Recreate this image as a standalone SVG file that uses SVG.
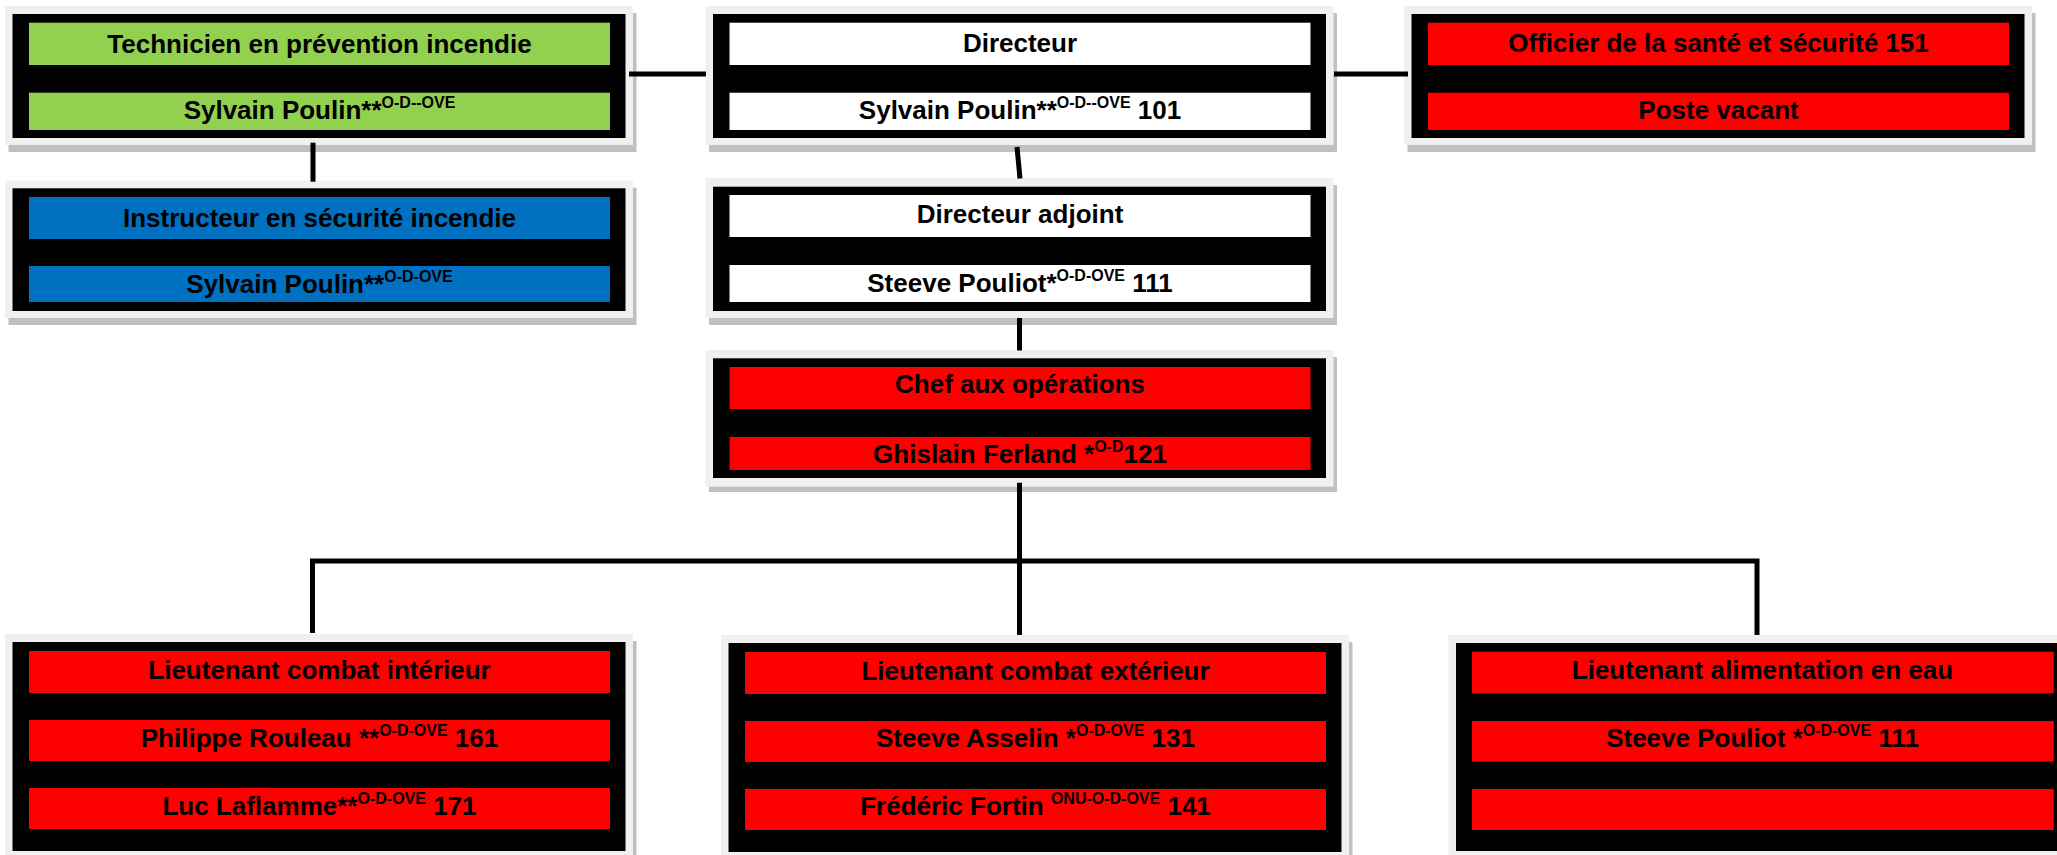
<svg xmlns="http://www.w3.org/2000/svg" width="2057" height="855" viewBox="0 0 2057 855">
<style>
.sh{fill:#c0c0c0}
.fr{fill:#f0f0f0}
.bk{fill:#000}
.g{fill:#92d050}
.b{fill:#0070c0}
.r{fill:#ff0000}
.w{fill:#ffffff}
.t{font-family:"Liberation Sans",Arial,sans-serif;font-weight:bold;font-size:26px;fill:#000;text-anchor:middle}
.s{font-size:16px}
.c{stroke:#000;stroke-width:5;fill:none;stroke-linejoin:miter;stroke-linecap:butt}
</style>
<rect width="2057" height="855" fill="#fff"/>

<g id="technicien">
<rect class="sh" x="8.5" y="13" width="628" height="139"/>
<rect class="fr" x="5" y="6" width="628" height="139"/>
<rect class="bk" x="12.5" y="14" width="613" height="124"/>
<rect class="g" x="29" y="22.7" width="581" height="42.3"/>
<rect class="g" x="29" y="92.7" width="581" height="37.3"/>
<text class="t" x="319.5" y="52.7">Technicien en prévention incendie</text>
<text class="t" x="319.5" y="119.3">Sylvain Poulin**<tspan class="s" dy="-11">O-D--OVE</tspan></text>
</g>

<g id="instructeur">
<rect class="sh" x="8.5" y="187.7" width="628" height="137.3"/>
<rect class="fr" x="5" y="180.7" width="628" height="137.3"/>
<rect class="bk" x="12.5" y="188.3" width="613" height="122.7"/>
<rect class="b" x="29" y="197" width="581" height="42"/>
<rect class="b" x="29" y="266" width="581" height="36"/>
<text class="t" x="319.5" y="226.7">Instructeur en sécurité incendie</text>
<text class="t" x="319.5" y="292.7">Sylvain Poulin**<tspan class="s" dy="-11">O-D-OVE</tspan></text>
</g>

<g id="directeur">
<rect class="sh" x="709" y="13" width="628" height="139"/>
<rect class="fr" x="705.5" y="6" width="628" height="139"/>
<rect class="bk" x="713" y="14" width="613" height="124"/>
<rect class="w" x="729.5" y="22.7" width="581" height="42.3"/>
<rect class="w" x="729.5" y="92.7" width="581" height="37.3"/>
<text class="t" x="1020" y="52.4">Directeur</text>
<text class="t" x="1020" y="119.3">Sylvain Poulin**<tspan class="s" dy="-11">O-D--OVE</tspan><tspan dy="11"> 101</tspan></text>
</g>

<g id="officier">
<rect class="sh" x="1407.5" y="13" width="628" height="139"/>
<rect class="fr" x="1404" y="6" width="628" height="139"/>
<rect class="bk" x="1411.5" y="14" width="613" height="124"/>
<rect class="r" x="1428" y="22.7" width="581" height="42.3"/>
<rect class="r" x="1428" y="92.7" width="581" height="37.3"/>
<text class="t" x="1718.5" y="52.4">Officier de la santé et sécurité 151</text>
<text class="t" x="1718.5" y="119.3">Poste vacant</text>
</g>

<g id="adjoint">
<rect class="sh" x="709" y="185" width="628" height="140"/>
<rect class="fr" x="705.5" y="178" width="628" height="140"/>
<rect class="bk" x="713" y="186.7" width="613" height="124.3"/>
<rect class="w" x="729.5" y="195" width="581" height="42"/>
<rect class="w" x="729.5" y="265" width="581" height="37"/>
<text class="t" x="1020" y="223">Directeur adjoint</text>
<text class="t" x="1020" y="291.7">Steeve Pouliot*<tspan class="s" dy="-11">O-D-OVE</tspan><tspan dy="11"> 111</tspan></text>
</g>

<g id="chef">
<rect class="sh" x="709" y="357" width="628" height="135"/>
<rect class="fr" x="705.5" y="350" width="628" height="136.7"/>
<rect class="bk" x="713" y="358.3" width="613" height="119.7"/>
<rect class="r" x="729.5" y="367" width="581" height="42"/>
<rect class="r" x="729.5" y="437" width="581" height="33"/>
<text class="t" x="1020" y="393.3">Chef aux opérations</text>
<text class="t" x="1020" y="462.7">Ghislain Ferland *<tspan class="s" dy="-11">O-D</tspan><tspan dy="11">121</tspan></text>
</g>

<g id="lt-interieur">
<rect class="sh" x="8.5" y="641" width="628" height="220"/>
<rect class="fr" x="5" y="634" width="628" height="225"/>
<rect class="bk" x="12.5" y="642" width="613" height="209"/>
<rect class="r" x="29" y="651" width="581" height="42"/>
<rect class="r" x="29" y="720" width="581" height="41"/>
<rect class="r" x="29" y="788" width="581" height="41"/>
<text class="t" x="319.5" y="679.3">Lieutenant combat intérieur</text>
<text class="t" x="319.5" y="746.7">Philippe Rouleau **<tspan class="s" dy="-11">O-D-OVE</tspan><tspan dy="11"> 161</tspan></text>
<text class="t" x="319.5" y="815">Luc Laflamme**<tspan class="s" dy="-11">O-D-OVE</tspan><tspan dy="11"> 171</tspan></text>
</g>

<g id="lt-exterieur">
<rect class="sh" x="724.5" y="642" width="628" height="220"/>
<rect class="fr" x="721" y="635" width="628" height="225"/>
<rect class="bk" x="728.5" y="643" width="613" height="209"/>
<rect class="r" x="745" y="652" width="581" height="42"/>
<rect class="r" x="745" y="721" width="581" height="41"/>
<rect class="r" x="745" y="789" width="581" height="41"/>
<text class="t" x="1035.5" y="679.6">Lieutenant combat extérieur</text>
<text class="t" x="1035.5" y="747.3">Steeve Asselin *<tspan class="s" dy="-11">O-D-OVE</tspan><tspan dy="11"> 131</tspan></text>
<text class="t" x="1035.5" y="815">Frédéric Fortin <tspan class="s" dy="-11">ONU-O-D-OVE</tspan><tspan dy="11"> 141</tspan></text>
</g>

<g id="lt-eau">
<rect class="sh" x="1452" y="642" width="628" height="220"/>
<rect class="fr" x="1448.5" y="635" width="628" height="225"/>
<rect class="bk" x="1456" y="643" width="613" height="208"/>
<rect class="r" x="1472" y="651.7" width="581.7" height="41.6"/>
<rect class="r" x="1472" y="721" width="581.7" height="40.7"/>
<rect class="r" x="1472" y="789" width="581.7" height="41"/>
<text class="t" x="1762.5" y="679.3">Lieutenant alimentation en eau</text>
<text class="t" x="1762.5" y="747">Steeve Pouliot *<tspan class="s" dy="-11">O-D-OVE</tspan><tspan dy="11"> 111</tspan></text>
</g>

<g id="connectors">
<line class="c" x1="629" y1="74" x2="706" y2="74"/>
<line class="c" x1="1334" y1="74" x2="1408" y2="74"/>
<line class="c" x1="313" y1="142.7" x2="313" y2="181.7"/>
<line class="c" x1="1017" y1="147" x2="1020" y2="178.5"/>
<line class="c" x1="1019.5" y1="318" x2="1019.5" y2="350.5"/>
<line class="c" x1="1019.5" y1="482.7" x2="1019.5" y2="635"/>
<path class="c" d="M312.5 633 V561 H1757 V635"/>
</g>
</svg>
